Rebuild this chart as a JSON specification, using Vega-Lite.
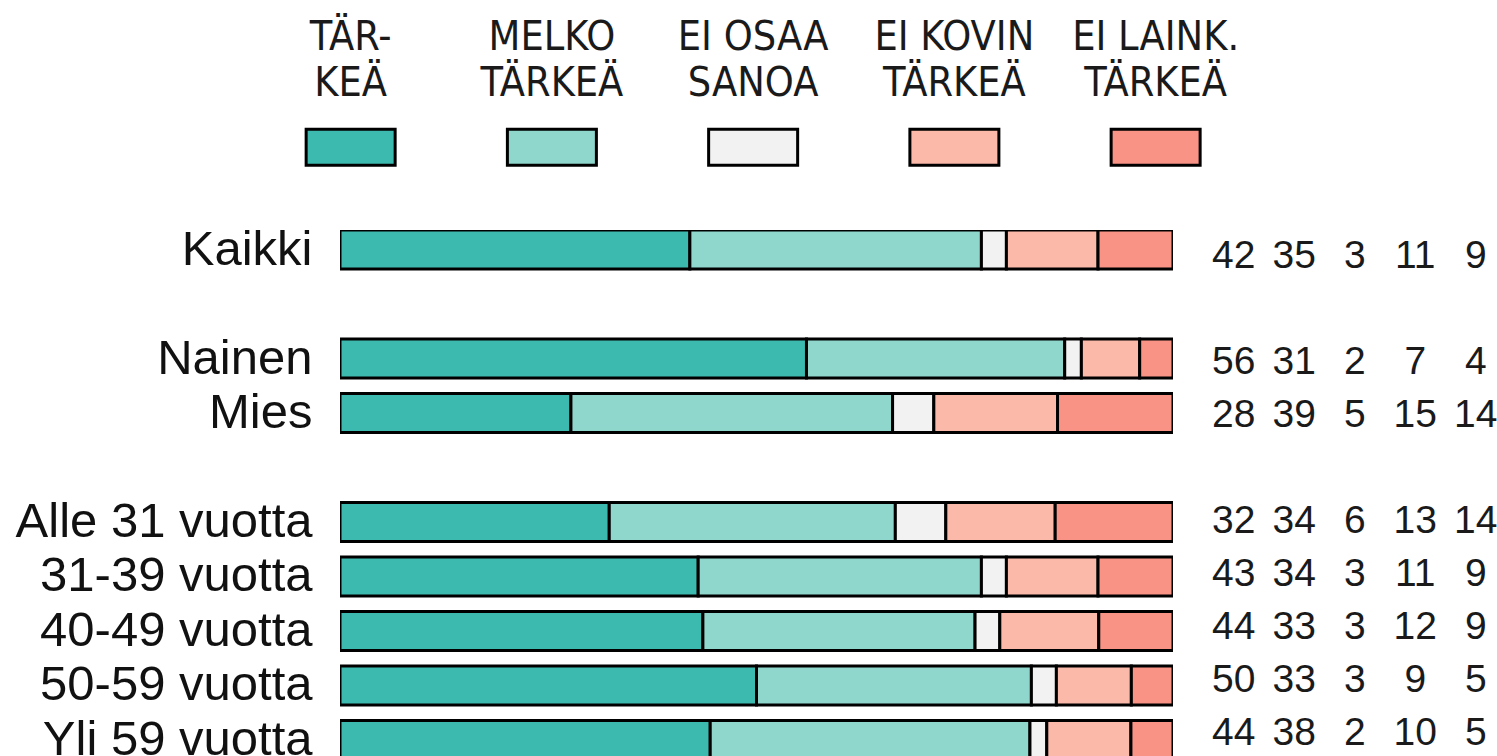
{
  "$schema": "https://vega.github.io/schema/vega-lite/v6.json",
  "padding": {"left": 15, "top": 0, "right": 0, "bottom": 0},
  "background": "white",
  "config": {"view": {"stroke": null}, "font": "Liberation Sans"},
  "datasets": {
    "answers": [
      {"a": "TÄRKEÄ", "lab": "TÄR-\nKEÄ"},
      {"a": "MELKO TÄRKEÄ", "lab": "MELKO\nTÄRKEÄ"},
      {"a": "EI OSAA SANOA", "lab": "EI OSAA\nSANOA"},
      {"a": "EI KOVIN TÄRKEÄ", "lab": "EI KOVIN\nTÄRKEÄ"},
      {"a": "EI LAINK. TÄRKEÄ", "lab": "EI LAINK.\nTÄRKEÄ"}
    ],
    "vals": [
      {"g": "Kaikki", "a": "TÄRKEÄ", "k": 1, "v": 42},
      {"g": "Kaikki", "a": "MELKO TÄRKEÄ", "k": 2, "v": 35},
      {"g": "Kaikki", "a": "EI OSAA SANOA", "k": 3, "v": 3},
      {"g": "Kaikki", "a": "EI KOVIN TÄRKEÄ", "k": 4, "v": 11},
      {"g": "Kaikki", "a": "EI LAINK. TÄRKEÄ", "k": 5, "v": 9},
      {"g": "Nainen", "a": "TÄRKEÄ", "k": 1, "v": 56},
      {"g": "Nainen", "a": "MELKO TÄRKEÄ", "k": 2, "v": 31},
      {"g": "Nainen", "a": "EI OSAA SANOA", "k": 3, "v": 2},
      {"g": "Nainen", "a": "EI KOVIN TÄRKEÄ", "k": 4, "v": 7},
      {"g": "Nainen", "a": "EI LAINK. TÄRKEÄ", "k": 5, "v": 4},
      {"g": "Mies", "a": "TÄRKEÄ", "k": 1, "v": 28},
      {"g": "Mies", "a": "MELKO TÄRKEÄ", "k": 2, "v": 39},
      {"g": "Mies", "a": "EI OSAA SANOA", "k": 3, "v": 5},
      {"g": "Mies", "a": "EI KOVIN TÄRKEÄ", "k": 4, "v": 15},
      {"g": "Mies", "a": "EI LAINK. TÄRKEÄ", "k": 5, "v": 14},
      {"g": "Alle 31 vuotta", "a": "TÄRKEÄ", "k": 1, "v": 32},
      {"g": "Alle 31 vuotta", "a": "MELKO TÄRKEÄ", "k": 2, "v": 34},
      {"g": "Alle 31 vuotta", "a": "EI OSAA SANOA", "k": 3, "v": 6},
      {"g": "Alle 31 vuotta", "a": "EI KOVIN TÄRKEÄ", "k": 4, "v": 13},
      {"g": "Alle 31 vuotta", "a": "EI LAINK. TÄRKEÄ", "k": 5, "v": 14},
      {"g": "31-39 vuotta", "a": "TÄRKEÄ", "k": 1, "v": 43},
      {"g": "31-39 vuotta", "a": "MELKO TÄRKEÄ", "k": 2, "v": 34},
      {"g": "31-39 vuotta", "a": "EI OSAA SANOA", "k": 3, "v": 3},
      {"g": "31-39 vuotta", "a": "EI KOVIN TÄRKEÄ", "k": 4, "v": 11},
      {"g": "31-39 vuotta", "a": "EI LAINK. TÄRKEÄ", "k": 5, "v": 9},
      {"g": "40-49 vuotta", "a": "TÄRKEÄ", "k": 1, "v": 44},
      {"g": "40-49 vuotta", "a": "MELKO TÄRKEÄ", "k": 2, "v": 33},
      {"g": "40-49 vuotta", "a": "EI OSAA SANOA", "k": 3, "v": 3},
      {"g": "40-49 vuotta", "a": "EI KOVIN TÄRKEÄ", "k": 4, "v": 12},
      {"g": "40-49 vuotta", "a": "EI LAINK. TÄRKEÄ", "k": 5, "v": 9},
      {"g": "50-59 vuotta", "a": "TÄRKEÄ", "k": 1, "v": 50},
      {"g": "50-59 vuotta", "a": "MELKO TÄRKEÄ", "k": 2, "v": 33},
      {"g": "50-59 vuotta", "a": "EI OSAA SANOA", "k": 3, "v": 3},
      {"g": "50-59 vuotta", "a": "EI KOVIN TÄRKEÄ", "k": 4, "v": 9},
      {"g": "50-59 vuotta", "a": "EI LAINK. TÄRKEÄ", "k": 5, "v": 5},
      {"g": "Yli 59 vuotta", "a": "TÄRKEÄ", "k": 1, "v": 44},
      {"g": "Yli 59 vuotta", "a": "MELKO TÄRKEÄ", "k": 2, "v": 38},
      {"g": "Yli 59 vuotta", "a": "EI OSAA SANOA", "k": 3, "v": 2},
      {"g": "Yli 59 vuotta", "a": "EI KOVIN TÄRKEÄ", "k": 4, "v": 10},
      {"g": "Yli 59 vuotta", "a": "EI LAINK. TÄRKEÄ", "k": 5, "v": 5}
    ]
  },
  "columns": 2,
  "spacing": 0,
  "bounds": "flush",
  "resolve": {"scale": {"x": "independent", "y": "independent"}},
  "concat": [
    {
      "width": 833,
      "height": 229.5,
      "data": {"name": "answers"},
      "layer": [
        {
          "mark": {"type": "text", "lineBreak": "\n", "fontSize": 41, "lineHeight": 46, "font": "DejaVu Sans Condensed, Liberation Sans Narrow, Liberation Sans", "baseline": "middle", "align": "center", "color": "#1a1a1a"},
          "encoding": {
            "x": {"field": "a", "type": "nominal", "axis": null, "sort": null,
                  "scale": {"type": "point", "domain": ["TÄRKEÄ", "MELKO TÄRKEÄ", "EI OSAA SANOA", "EI KOVIN TÄRKEÄ", "EI LAINK. TÄRKEÄ"], "padding": 0.0696, "align": 0.38}},
            "y": {"datum": "label", "type": "nominal", "axis": null,
                  "scale": {"type": "point", "domain": ["label", "box"], "padding": 0.548, "align": 0.315}},
            "text": {"field": "lab"}
          }
        },
        {
          "mark": {"type": "rect", "width": 89, "height": 36, "stroke": "black", "strokeWidth": 3},
          "encoding": {
            "x": {"field": "a", "type": "nominal", "axis": null, "sort": null},
            "y": {"datum": "box", "type": "nominal", "axis": null},
            "color": {"field": "a", "type": "nominal", "legend": null,
                      "scale": {"domain": ["TÄRKEÄ", "MELKO TÄRKEÄ", "EI OSAA SANOA", "EI KOVIN TÄRKEÄ", "EI LAINK. TÄRKEÄ"], "range": ["#3dbab0", "#8fd6cd", "#f2f2f2", "#fbb9aa", "#f99386"]}}
          }
        }
      ]
    },
    {
      "width": 323,
      "height": 229.5,
      "data": {"values": [{}]},
      "mark": "text",
      "encoding": {"text": {"value": ""}}
    },
    {
      "width": 833,
      "height": 526.5,
      "data": {"name": "vals"},
      "mark": {"type": "bar", "stroke": "black", "strokeWidth": 3, "clip": true},
      "encoding": {
        "y": {"field": "g", "type": "nominal", "sort": null, "title": null,
              "scale": {"domain": ["Kaikki", " ", "Nainen", "Mies", "  ", "Alle 31 vuotta", "31-39 vuotta", "40-49 vuotta", "50-59 vuotta", "Yli 59 vuotta"], "paddingInner": 0.284, "paddingOuter": 0, "range": [0, 529.5]},
              "axis": {"ticks": false, "domain": false, "labelFontSize": 49, "labelFont": "Liberation Sans", "labelColor": "#111111", "labelPadding": 28, "labelLimit": 0, "labelBound": false}},
        "x": {"field": "v", "type": "quantitative", "stack": "normalize", "axis": null},
        "order": {"field": "k"},
        "color": {"field": "a", "type": "nominal", "legend": null}
      }
    },
    {
      "width": 323,
      "height": 526.5,
      "data": {"name": "vals"},
      "mark": {"type": "text", "fontSize": 39, "font": "Liberation Sans", "color": "#1a1a1a", "baseline": "middle", "align": "center"},
      "encoding": {
        "y": {"field": "g", "type": "nominal", "sort": null, "axis": null,
              "scale": {"domain": ["Kaikki", " ", "Nainen", "Mies", "  ", "Alle 31 vuotta", "31-39 vuotta", "40-49 vuotta", "50-59 vuotta", "Yli 59 vuotta"], "paddingInner": 0.284, "paddingOuter": 0, "range": [0, 529.5]}},
        "x": {"field": "a", "type": "nominal", "axis": null,
              "scale": {"type": "point", "domain": ["TÄRKEÄ", "MELKO TÄRKEÄ", "EI OSAA SANOA", "EI KOVIN TÄRKEÄ", "EI LAINK. TÄRKEÄ"], "padding": 0.669, "align": 0.75}},
        "text": {"field": "v", "type": "quantitative"}
      }
    }
  ]
}
